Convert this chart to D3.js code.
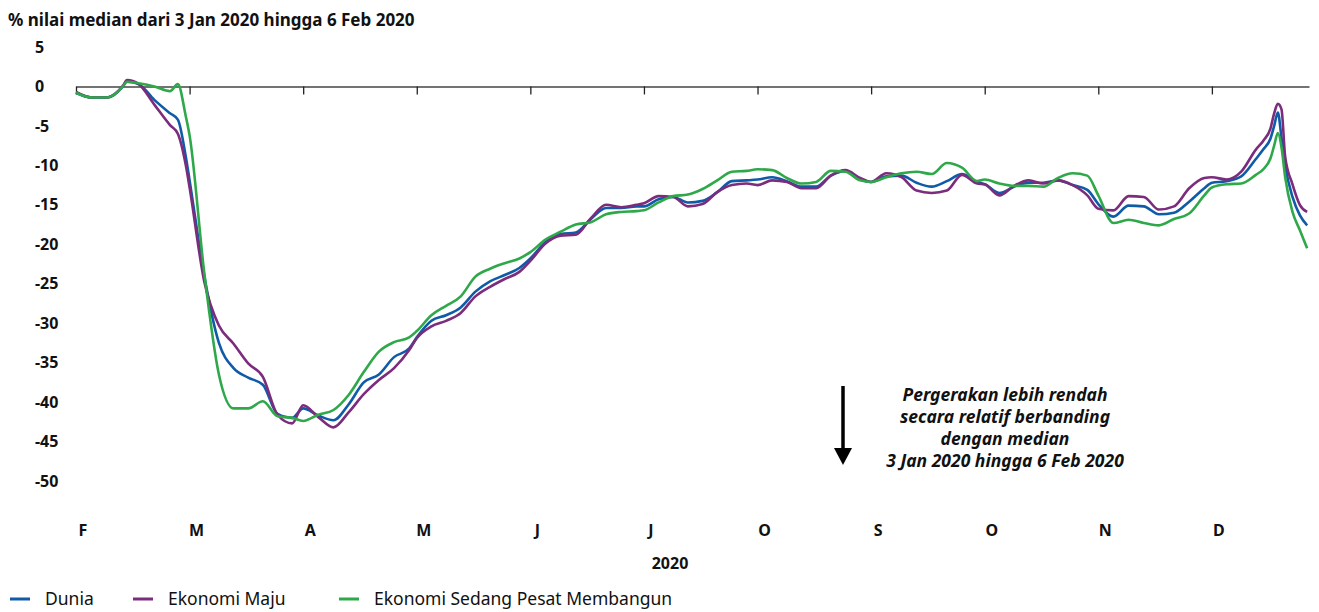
<!DOCTYPE html>
<html>
<head>
<meta charset="utf-8">
<script src="https://cdn.jsdelivr.net/npm/d3@7"></script>
<style>
  body { margin: 0; background: #fff; }
  svg { font-family: "Noto Sans", "DejaVu Sans", sans-serif; }
</style>
</head>
<body>
<svg id="chart" width="1319" height="612"></svg>
<script>
// tarikh sampel (2020)
const dates = [
  "2020-02-01","2020-02-05","2020-02-09","2020-02-13","2020-02-14","2020-02-17","2020-02-21","2020-02-25","2020-02-27","2020-02-29",
  "2020-03-01","2020-03-05","2020-03-09","2020-03-13","2020-03-17","2020-03-21","2020-03-25","2020-03-29",
  "2020-04-01","2020-04-05","2020-04-09","2020-04-13","2020-04-17","2020-04-21","2020-04-25","2020-04-29",
  "2020-05-01","2020-05-05","2020-05-09","2020-05-13","2020-05-17","2020-05-21","2020-05-25","2020-05-29",
  "2020-06-01","2020-06-05","2020-06-09","2020-06-13","2020-06-17","2020-06-21","2020-06-25","2020-06-29",
  "2020-07-01","2020-07-05","2020-07-09","2020-07-13","2020-07-17","2020-07-21","2020-07-25","2020-07-29",
  "2020-08-01","2020-08-05","2020-08-09","2020-08-13","2020-08-17","2020-08-21","2020-08-25","2020-08-29",
  "2020-09-01","2020-09-05","2020-09-09","2020-09-13","2020-09-17","2020-09-21","2020-09-25","2020-09-29",
  "2020-10-01","2020-10-05","2020-10-09","2020-10-13","2020-10-17","2020-10-21","2020-10-25","2020-10-29",
  "2020-11-01","2020-11-05","2020-11-09","2020-11-13","2020-11-17","2020-11-21","2020-11-25","2020-11-29",
  "2020-12-01","2020-12-05","2020-12-09","2020-12-13","2020-12-15","2020-12-17","2020-12-18","2020-12-19","2020-12-20","2020-12-21","2020-12-23","2020-12-25","2020-12-27"
]

const dunia = [
  -0.8,-1.4,-1.4,0.0,0.6,0.3,-1.7,-3.4,-4.2,-8.8,
  -11.9,-24.0,-32.5,-35.7,-36.9,-37.8,-41.5,-42.0,
  -40.8,-41.7,-42.3,-40.3,-37.5,-36.5,-34.3,-33.2,
  -31.8,-29.7,-29.0,-28.0,-26.0,-24.7,-23.9,-23.0,
  -21.8,-19.7,-18.7,-18.5,-16.8,-15.4,-15.4,-15.2,
  -15.2,-14.3,-14.0,-14.7,-14.5,-13.4,-12.0,-11.9,
  -11.8,-11.5,-12.0,-12.7,-12.7,-11.3,-10.7,-11.8,
  -12.1,-11.4,-11.3,-12.2,-12.7,-12.0,-11.1,-12.1,
  -12.4,-13.5,-12.7,-12.2,-12.2,-11.9,-12.5,-13.1,
  -14.9,-16.5,-15.1,-15.2,-16.2,-16.0,-14.6,-12.9,
  -12.2,-12.0,-11.4,-9.2,-8.0,-6.6,-5.0,-3.3,-6.5,-10.0,-14.0,-16.3,-17.6
]

const ekonomiMaju = [
  -0.7,-1.4,-1.4,0.1,0.8,0.3,-2.3,-4.9,-6.0,-9.9,
  -12.8,-24.7,-30.3,-32.6,-35.1,-36.8,-41.6,-42.7,
  -40.4,-41.9,-43.2,-41.3,-39.0,-37.2,-35.7,-33.4,
  -31.9,-30.4,-29.7,-28.7,-26.6,-25.4,-24.4,-23.5,
  -22.1,-19.9,-18.9,-18.8,-16.7,-15.0,-15.3,-15.0,
  -14.8,-13.9,-14.0,-15.2,-14.9,-13.4,-12.5,-12.3,
  -12.5,-11.9,-12.1,-12.9,-12.9,-11.3,-10.6,-11.6,
  -12.1,-11.0,-11.5,-13.2,-13.5,-13.2,-11.2,-12.3,
  -12.4,-13.8,-12.6,-11.9,-12.3,-11.9,-12.5,-13.8,
  -15.5,-15.7,-13.9,-14.0,-15.6,-15.2,-12.9,-11.6,
  -11.5,-11.8,-10.8,-8.0,-6.9,-5.3,-3.4,-2.2,-2.9,-8.9,-12.4,-15.0,-15.9
]

const ekonomiMembangun = [
  -0.8,-1.4,-1.4,0.0,0.6,0.4,0.0,-0.6,0.3,-3.7,
  -6.2,-23.6,-36.5,-40.8,-40.8,-39.9,-41.8,-42.0,
  -42.4,-41.6,-41.0,-39.1,-36.2,-33.6,-32.4,-31.8,
  -31.0,-29.0,-27.8,-26.6,-24.1,-23.1,-22.4,-21.8,
  -21.0,-19.4,-18.4,-17.5,-17.2,-16.2,-15.9,-15.8,
  -15.7,-14.7,-13.9,-13.7,-13.0,-11.9,-10.8,-10.7,
  -10.5,-10.6,-11.6,-12.3,-12.1,-10.7,-10.8,-11.9,
  -12.1,-11.5,-11.0,-10.8,-11.1,-9.7,-10.3,-12.0,
  -11.8,-12.3,-12.6,-12.6,-12.7,-11.6,-11.0,-11.3,
  -13.8,-17.3,-16.9,-17.3,-17.6,-16.8,-16.1,-13.8,
  -12.8,-12.4,-12.3,-11.2,-10.5,-9.1,-7.5,-5.9,-7.7,-11.5,-15.9,-18.2,-20.5
]

const monthLabels = ["F", "M", "A", "M", "J", "J", "O", "S", "O", "N", "D"]
const yTicks = [5, 0, -5, -10, -15, -20, -25, -30, -35, -40, -45, -50]
const seriesNames = ["Dunia", "Ekonomi Maju", "Ekonomi Sedang Pesat Membangun"]
const seriesColors = ["#0f5ba7", "#7b2c7c", "#2fa84a"]
const noteLines = ["Pergerakan lebih rendah", "secara relatif berbanding", "dengan median", "3 Jan 2020 hingga 6 Feb 2020"]

// each month gets the same width on the axis
function monthPos(s) {
  var d = new Date(s + "T00:00:00")
  var dim = new Date(d.getFullYear(), d.getMonth() + 1, 0).getDate()
  return (d.getMonth() - 1) + (d.getDate() - 1) / dim
}

var svg = d3.select("#chart")

var x = d3.scaleLinear()
    .domain([0, 10.855])
    .range([76, 1309])

var y = d3.scaleLinear()
    .domain([-50, 5])
    .range([481, 47])

svg.append("text")
    .attr("x", 8)
    .attr("y", 26)
    .style("font-size", "17px")
    .style("font-weight", "bold")
    .attr("fill", "#111")
    .text("% nilai median dari 3 Jan 2020 hingga 6 Feb 2020")

svg.append("g")
    .selectAll("text")
    .data(yTicks)
    .join("text")
    .attr("x", 35)
    .attr("y", function(d){ return y(d); })
    .attr("dy", "0.35em")
    .style("font-size", "16px")
    .style("font-weight", "bold")
    .attr("fill", "#111")
    .text(function(d){ return d; })

// zero line with month ticks
var xAxis = svg.append("g")
    .attr("transform", "translate(0," + y(0) + ")")
    .call(d3.axisBottom(x)
        .tickValues(d3.range(0, 11))
        .tickSize(8)
        .tickSizeOuter(0)
        .tickFormat(""))
xAxis.select(".domain").attr("stroke", "#444").attr("stroke-width", 1.6)
xAxis.selectAll(".tick line").attr("stroke", "#222").attr("stroke-width", 1.3)

svg.append("g")
    .selectAll("text")
    .data(monthLabels)
    .join("text")
    .attr("x", function(d, i){ return x(i) + 7; })
    .attr("y", 536)
    .attr("text-anchor", "middle")
    .style("font-size", "16px")
    .style("font-weight", "bold")
    .attr("fill", "#111")
    .text(function(d){ return d; })

svg.append("text")
    .attr("x", 670)
    .attr("y", 569)
    .attr("text-anchor", "middle")
    .style("font-size", "16px")
    .style("font-weight", "bold")
    .attr("fill", "#111")
    .text("2020")

var series = [dunia, ekonomiMaju, ekonomiMembangun]

var line = d3.line()
    .x(function(d){ return x(d.m); })
    .y(function(d){ return y(d.v); })
    .curve(d3.curveMonotoneX)

svg.append("g")
    .selectAll("path")
    .data(series)
    .join("path")
    .attr("fill", "none")
    .attr("stroke", function(d, i){ return seriesColors[i]; })
    .attr("stroke-width", 2.6)
    .attr("stroke-linejoin", "round")
    .attr("d", function(vals){
        return line(vals.map(function(v, i){ return {m: monthPos(dates[i]), v: v}; }));
    })

// annotation
svg.append("line")
    .attr("x1", 843).attr("x2", 843)
    .attr("y1", 386).attr("y2", 452)
    .attr("stroke", "#000")
    .attr("stroke-width", 3.5)
svg.append("path")
    .attr("d", "M834,448 L852,448 L843,465 Z")
    .attr("fill", "#000")

svg.append("g")
    .selectAll("text")
    .data(noteLines)
    .join("text")
    .attr("x", 1005)
    .attr("y", function(d, i){ return 401 + i * 22; })
    .attr("text-anchor", "middle")
    .style("font-size", "17.5px")
    .style("font-weight", "bold")
    .style("font-style", "italic")
    .attr("fill", "#111")
    .text(function(d){ return d; })

// legend
var legendX = [10, 133, 339]
var leg = svg.append("g")
    .selectAll("g")
    .data(seriesNames)
    .join("g")
    .attr("transform", function(d, i){ return "translate(" + legendX[i] + ",599)"; })
leg.append("line")
    .attr("x1", 0).attr("x2", 20)
    .attr("stroke", function(d, i){ return seriesColors[i]; })
    .attr("stroke-width", 3)
leg.append("text")
    .attr("x", 35)
    .attr("dy", "0.35em")
    .style("font-size", "17.5px")
    .attr("fill", "#111")
    .text(function(d){ return d; })
</script>
</body>
</html>
